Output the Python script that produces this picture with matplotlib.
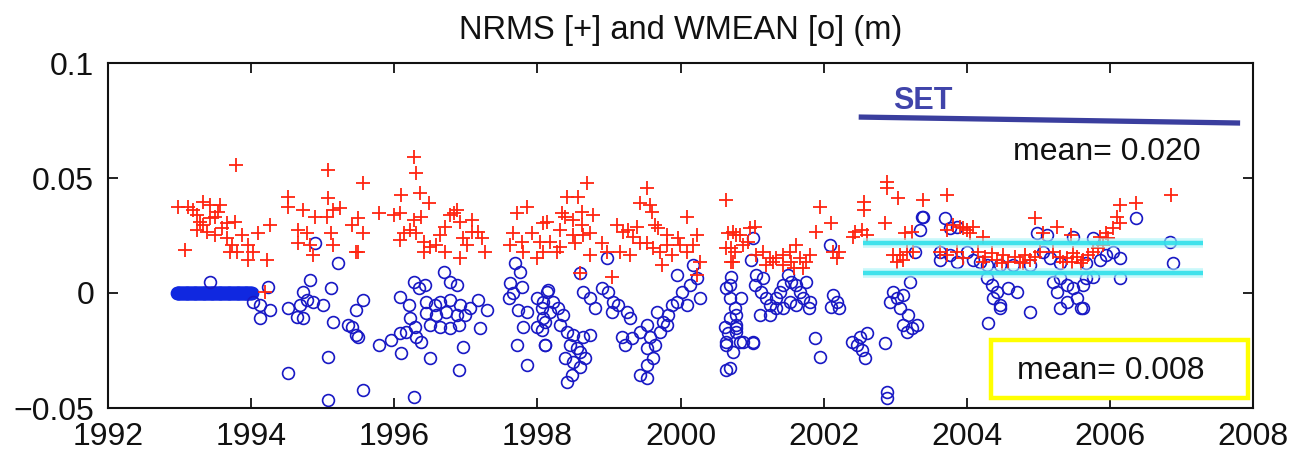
import matplotlib
matplotlib.use("Agg")
import matplotlib.pyplot as plt
from matplotlib.patches import Rectangle

plt.rcParams['font.family'] = ['Liberation Sans', 'DejaVu Sans']

# ---------------- data ----------------
title = "NRMS [+] and WMEAN [o] (m)"
x_ticks = [1992, 1994, 1996, 1998, 2000, 2002, 2004, 2006, 2008]
x_tick_labels = ["1992", "1994", "1996", "1998", "2000", "2002", "2004", "2006", "2008"]
y_ticks = [-0.05, 0, 0.05, 0.1]
y_tick_labels = ["\u22120.05", "0", "0.05", "0.1"]

# NRMS (red +)
nrms_x = [
    1993.79, 1995.07, 1992.98, 1993.12, 1993.19, 1993.33, 1993.43, 1993.57, 1993.24, 1993.29,
    1993.33, 1993.43, 1993.50, 1993.54, 1993.66, 1993.77, 1993.24, 1993.38, 1993.50, 1993.59,
    1993.66, 1993.73, 1993.80, 1993.87, 1993.96, 1994.03, 1994.10, 1994.26, 1994.22, 1993.96,
    1993.08, 1993.70, 1994.52, 1994.52, 1994.73, 1994.89, 1995.08, 1995.06, 1995.15, 1995.24,
    1994.66, 1994.78, 1994.66, 1994.82, 1994.87, 1995.12, 1995.15, 1995.41, 1995.47, 1994.19,
    1996.27, 1996.31, 1995.57, 1996.10, 1996.36, 1996.48, 1995.78, 1995.99, 1996.08, 1995.50,
    1995.57, 1995.50, 1996.27, 1996.38, 1996.22, 1996.13, 1996.08, 1996.31, 1996.41, 1996.50,
    1996.59, 1996.64, 1996.71, 1996.78, 1996.87, 1996.92, 1996.96, 1997.08, 1997.08, 1997.17,
    1997.22, 1997.01, 1996.92, 1996.71, 1997.27, 1996.41, 1996.83, 1997.71, 1997.85, 1997.66,
    1997.62, 1997.78, 1997.80, 1997.92, 1998.04, 1998.08, 1997.99,
    1998.69, 1998.41, 1998.57, 1998.13, 1998.34, 1998.39, 1998.50, 1998.62, 1998.78, 1998.62,
    1998.32, 1998.50, 1998.64, 1998.74, 1998.53, 1998.74, 1998.32, 1998.18, 1998.08, 1998.27,
    1998.90, 1998.97, 1999.04, 1998.60, 1999.11, 1999.20, 1999.27, 1999.39, 1999.34, 1999.43,
    1999.15, 1999.29, 1999.53, 1999.43, 1999.57, 1999.60, 1999.64, 1999.69, 1999.53, 1999.62,
    1999.71, 1999.81, 1999.88, 1999.97, 2000.09, 1999.99, 2000.09, 2000.18, 2000.23, 2000.27,
    2000.23, 1999.81, 1999.74, 2000.64, 2000.67, 2000.71, 2000.78, 2000.74, 2000.64,
    2000.74, 2000.83, 2000.88, 2000.76, 2000.71, 2000.97, 2001.04, 2000.95, 2001.06, 2001.15,
    2001.25, 2001.34, 2001.43, 2001.53, 2001.62, 2001.67, 2001.76, 2001.81, 2001.71, 2001.58,
    2001.43, 2001.20, 2001.29, 2001.55, 2001.95, 2001.90, 2002.11, 2002.13, 2002.22, 2002.18,
    2002.56, 2002.56, 2002.88, 2002.88, 2002.86, 2002.44, 2002.53, 2002.60, 2002.41, 2003.04,
    2003.14, 2003.23, 2002.97, 2003.07, 2003.16, 2003.25, 2003.02, 2003.11,
    2003.39, 2003.72, 2003.81, 2003.95, 2004.09, 2004.05, 2004.23, 2004.95, 2005.26, 2005.07,
    2005.46, 2004.16, 2004.26, 2004.35, 2004.42, 2004.51, 2004.58, 2004.67, 2004.74, 2004.81,
    2004.88, 2004.95, 2005.02, 2004.23, 2004.49, 2004.79, 2005.21, 2005.30, 2005.40, 2005.47,
    2005.54, 2005.63, 2005.70, 2005.77, 2005.84, 2005.91, 2005.98, 2006.05, 2006.10, 2005.49,
    2005.35, 2005.59, 2003.63, 2003.72, 2003.86, 2003.95, 2003.72, 2003.90, 2004.00, 2006.14,
    2006.37, 2006.14, 2005.95, 2005.86, 2006.86,
]
nrms_y = [
    0.0557, 0.0535, 0.0375, 0.0375, 0.0360, 0.0397, 0.0383, 0.0383, 0.0339, 0.0310,
    0.0296, 0.0325, 0.0332, 0.0354, 0.0303, 0.0310, 0.0274, 0.0267, 0.0252, 0.0281,
    0.0238, 0.0209, 0.0180, 0.0252, 0.0209, 0.0180, 0.0260, 0.0296, 0.0143, 0.0143,
    0.0187, 0.0180, 0.0419, 0.0375, 0.0360, 0.0332, 0.0412, 0.0332, 0.0360, 0.0370,
    0.0274, 0.0260, 0.0216, 0.0209, 0.0165, 0.0260, 0.0209, 0.0296, 0.0180, 0.0006,
    0.0593, 0.0520, 0.0477, 0.0426, 0.0433, 0.0390, 0.0346, 0.0339, 0.0346, 0.0325,
    0.0260, 0.0180, 0.0317, 0.0332, 0.0274, 0.0260, 0.0230, 0.0260, 0.0223, 0.0201,
    0.0209, 0.0252, 0.0288, 0.0339, 0.0360, 0.0310, 0.0238, 0.0317, 0.0267, 0.0267,
    0.0238, 0.0209, 0.0151, 0.0180, 0.0180, 0.0180, 0.0346, 0.0346, 0.0375, 0.0260,
    0.0209, 0.0223, 0.0180, 0.0260, 0.0223, 0.0303, 0.0151,
    0.0477, 0.0419, 0.0419, 0.0310, 0.0346, 0.0332, 0.0317, 0.0354, 0.0339, 0.0296,
    0.0274, 0.0252, 0.0252, 0.0260, 0.0216, 0.0165, 0.0201, 0.0223, 0.0180, 0.0180,
    0.0216, 0.0180, 0.0071, 0.0087, 0.0296, 0.0267, 0.0274, 0.0288, 0.0245, 0.0216,
    0.0180, 0.0165, 0.0455, 0.0390, 0.0383, 0.0354, 0.0296, 0.0281, 0.0216, 0.0194,
    0.0180, 0.0209, 0.0165, 0.0238, 0.0332, 0.0209, 0.0180, 0.0209, 0.0252, 0.0136,
    0.0078, 0.0252, 0.0122, 0.0404, 0.0260, 0.0194, 0.0252, 0.0136, 0.0194,
    0.0267, 0.0252, 0.0209, 0.0180, 0.0136, 0.0281, 0.0288, 0.0223, 0.0165, 0.0180,
    0.0151, 0.0151, 0.0165, 0.0180, 0.0209, 0.0151, 0.0136, 0.0165, 0.0107, 0.0107,
    0.0122, 0.0122, 0.0136, 0.0136, 0.0375, 0.0267, 0.0303, 0.0180, 0.0180, 0.0151,
    0.0397, 0.0360, 0.0484, 0.0455, 0.0303, 0.0267, 0.0274, 0.0252, 0.0245, 0.0412,
    0.0260, 0.0267, 0.0165, 0.0165, 0.0180, 0.0180, 0.0136, 0.0143,
    0.0404, 0.0426, 0.0296, 0.0281, 0.0288, 0.0260, 0.0245, 0.0325, 0.0288, 0.0260,
    0.0252, 0.0180, 0.0158, 0.0172, 0.0143, 0.0165, 0.0136, 0.0158, 0.0136, 0.0165,
    0.0143, 0.0158, 0.0180, 0.0136, 0.0129, 0.0129, 0.0180, 0.0158, 0.0151, 0.0136,
    0.0158, 0.0143, 0.0165, 0.0180, 0.0194, 0.0209, 0.0238, 0.0281, 0.0332, 0.0172,
    0.0136, 0.0129, 0.0180, 0.0165, 0.0180, 0.0151, 0.0274, 0.0288, 0.0274, 0.0383,
    0.0390, 0.0303, 0.0260, 0.0245, 0.0426,
]

# WMEAN early period, all at zero (dense run of circles)
wmean_zero_x = [
    1992.960, 1992.972, 1992.985, 1992.997, 1993.010, 1993.022, 1993.035, 1993.047, 1993.060, 1993.072,
    1993.085, 1993.097, 1993.110, 1993.122, 1993.135, 1993.147, 1993.160, 1993.172, 1993.185, 1993.197,
    1993.210, 1993.222, 1993.235, 1993.247, 1993.260, 1993.272, 1993.285, 1993.297, 1993.310, 1993.322,
    1993.335, 1993.347, 1993.360, 1993.372, 1993.385, 1993.397, 1993.410, 1993.422, 1993.435, 1993.447,
    1993.460, 1993.472, 1993.485, 1993.497, 1993.510, 1993.522, 1993.535, 1993.547, 1993.560, 1993.572,
    1993.585, 1993.597, 1993.610, 1993.622, 1993.635, 1993.647, 1993.660, 1993.672, 1993.685, 1993.697,
    1993.710, 1993.722, 1993.735, 1993.747, 1993.760, 1993.772, 1993.785, 1993.797, 1993.810, 1993.822,
    1993.835, 1993.847, 1993.860, 1993.872, 1993.885, 1993.897, 1993.910, 1993.922, 1993.935, 1993.947,
    1993.960, 1993.972, 1993.985, 1993.997, 1994.010,
]
wmean_zero_y = [
    0.0, 0.0, 0.0, 0.0, 0.0, 0.0, 0.0, 0.0, 0.0, 0.0,
    0.0, 0.0, 0.0, 0.0, 0.0, 0.0, 0.0, 0.0, 0.0, 0.0,
    0.0, 0.0, 0.0, 0.0, 0.0, 0.0, 0.0, 0.0, 0.0, 0.0,
    0.0, 0.0, 0.0, 0.0, 0.0, 0.0, 0.0, 0.0, 0.0, 0.0,
    0.0, 0.0, 0.0, 0.0, 0.0, 0.0, 0.0, 0.0, 0.0, 0.0,
    0.0, 0.0, 0.0, 0.0, 0.0, 0.0, 0.0, 0.0, 0.0, 0.0,
    0.0, 0.0, 0.0, 0.0, 0.0, 0.0, 0.0, 0.0, 0.0, 0.0,
    0.0, 0.0, 0.0, 0.0, 0.0, 0.0, 0.0, 0.0, 0.0, 0.0,
    0.0, 0.0, 0.0, 0.0, 0.0,
]

# WMEAN (blue o)
wmean_x = [
    1993.42, 1994.24, 1994.03, 1994.12, 1994.26, 1994.12, 1994.89, 1995.22, 1994.82, 1995.12,
    1994.73, 1994.78, 1994.87, 1994.68, 1994.52, 1994.64, 1994.73, 1995.01, 1995.15, 1995.36,
    1995.47, 1995.08, 1994.52, 1995.08, 1995.47,
    1995.57, 1995.41, 1995.50, 1995.78, 1995.96, 1996.08, 1996.10, 1995.57, 1996.27, 1996.50,
    1996.96, 1996.90, 1997.20, 1996.69, 1996.78, 1996.87, 1996.27, 1996.43, 1996.34, 1996.08,
    1996.20, 1996.22, 1996.29, 1996.17, 1996.31, 1996.38, 1996.45, 1996.57, 1996.64, 1996.78,
    1996.92, 1997.06, 1997.17, 1997.29, 1996.45, 1996.59, 1996.73, 1996.87, 1996.99, 1996.50,
    1996.64, 1996.78, 1996.90, 1997.69, 1997.76, 1997.62, 1997.78, 1997.66, 1997.60, 1997.73,
    1997.85, 1997.80, 1997.99, 1998.06, 1998.08, 1997.99, 1998.13, 1998.11, 1997.71, 1997.85,
    1998.15, 1998.08, 1998.18, 1998.11, 1998.06, 1998.11, 1998.22, 1998.29, 1998.36, 1998.32,
    1998.41, 1998.50, 1998.46, 1998.55, 1998.64, 1998.74, 1998.60, 1998.39, 1998.50, 1998.60,
    1998.48, 1998.41, 1998.64, 1998.74, 1998.81, 1998.67, 1998.90, 1998.99, 1999.06, 1999.04,
    1999.13, 1999.25, 1999.29, 1999.18, 1999.22, 1999.32, 1999.43, 1999.53, 1999.57, 1999.64,
    1999.71, 1999.76, 1999.83, 1999.88, 1999.95, 2000.02, 2000.13, 2000.23, 2000.18, 2000.27,
    1999.95, 1999.53, 1999.62, 1999.53, 1999.43, 1999.53, 1998.97, 1999.67, 2000.09, 1999.81,
    1998.60,
    2000.71, 2000.64, 2000.69, 2000.76, 2000.69, 2000.62, 2000.78, 2000.64, 2000.74, 2000.64,
    2000.64, 2000.83, 2001.01, 2000.67, 2000.78,
    2000.69, 2000.85, 2000.78, 2000.78, 2000.88, 2001.01, 2000.69, 2001.01, 2000.99, 2001.06,
    2001.15, 2001.04, 2001.13, 2001.20, 2001.25, 2001.11, 2001.25, 2001.34, 2001.39, 2001.43,
    2001.50, 2001.55, 2001.62, 2001.67, 2001.71, 2001.81, 2001.79, 2001.62, 2001.53, 2001.43,
    2001.34, 2001.76, 2002.09, 2002.13, 2002.18, 2002.22, 2002.11, 2001.88, 2001.95, 2002.39,
    2002.46, 2002.53, 2002.58, 2002.51, 2002.60, 2002.86, 2002.88, 2002.88, 2002.97, 2002.93,
    2003.02, 2003.11, 2003.21, 2003.07, 2003.18, 2003.11, 2003.23, 2003.30, 2003.16, 2003.37,
    2003.35, 2003.28,
    2003.39, 2003.70, 2003.77, 2003.86, 2003.63, 2003.63, 2003.77, 2003.86, 2004.00, 2004.09,
    2004.19, 2004.28, 2004.47, 2004.65, 2004.88, 2005.07, 2005.16, 2005.30, 2005.67, 2005.86,
    2005.95, 2004.98, 2005.12, 2005.49, 2005.77, 2004.28, 2004.35, 2004.42, 2004.37, 2004.47,
    2004.58, 2004.70, 2004.30, 2004.47, 2004.88, 2005.21, 2005.30, 2005.40, 2005.49, 2005.26,
    2005.54, 2005.40, 2005.59, 2005.30, 2005.67, 2005.77,
    2006.37, 2006.84, 2006.88, 2006.14, 2006.05, 2006.14, 2005.63, 2005.63,
]
wmean_y = [
    0.0049, 0.0027, -0.0038, -0.0052, -0.0074, -0.0110, 0.0216, 0.0129, 0.0057, 0.0020,
    0.0006, -0.0030, -0.0038, -0.0052, -0.0064, -0.0103, -0.0110, -0.0052, -0.0125, -0.0139,
    -0.0183, -0.0277, -0.0349, -0.0465, -0.0074,
    -0.0030, -0.0146, -0.0190, -0.0226, -0.0204, -0.0175, -0.0262, -0.0422, -0.0451, -0.0284,
    -0.0233, -0.0335, -0.0154, 0.0093, 0.0049, 0.0035, 0.0049, 0.0035, 0.0020, -0.0016,
    -0.0052, -0.0110, -0.0146, -0.0168, -0.0190, -0.0212, -0.0038, -0.0052, -0.0038, -0.0030,
    -0.0052, -0.0067, -0.0030, -0.0074, -0.0088, -0.0096, -0.0081, -0.0096, -0.0096, -0.0139,
    -0.0146, -0.0154, -0.0139, 0.0129, 0.0093, 0.0042, 0.0027, 0.0000, -0.0023, -0.0074,
    -0.0081, -0.0146, -0.0023, -0.0067, -0.0110, -0.0146, 0.0006, -0.0226, -0.0226, -0.0313,
    0.0013, -0.0038, -0.0081, -0.0125, -0.0161, -0.0226, -0.0038, -0.0067, -0.0096, -0.0139,
    -0.0168, -0.0183, -0.0226, -0.0241, -0.0190, -0.0183, -0.0255, -0.0284, -0.0299, -0.0320,
    -0.0357, -0.0386, 0.0006, -0.0023, -0.0067, -0.0284, 0.0020, 0.0006, -0.0038, -0.0081,
    -0.0052, -0.0081, -0.0110, -0.0190, -0.0226, -0.0197, -0.0168, -0.0139, -0.0190, -0.0226,
    -0.0168, -0.0125, -0.0096, -0.0052, -0.0038, 0.0006, 0.0035, 0.0064, 0.0122, -0.0023,
    0.0078, -0.0241, -0.0284, -0.0313, -0.0357, -0.0371, 0.0151, -0.0081, -0.0052, -0.0139,
    0.0087,
    0.0071, 0.0020, -0.0023, -0.0067, -0.0110, -0.0146, -0.0168, -0.0226, -0.0255, -0.0335,
    -0.0212, -0.0212, -0.0212, -0.0175, -0.0154,
    0.0035, -0.0023, -0.0096, -0.0139, -0.0212, -0.0219, -0.0328, 0.0238, 0.0143, 0.0078,
    0.0064, 0.0035, 0.0006, -0.0023, -0.0052, -0.0096, -0.0096, -0.0023, 0.0006, 0.0035,
    0.0078, 0.0049, 0.0035, 0.0006, -0.0023, -0.0038, -0.0067, -0.0052, -0.0038, -0.0067,
    -0.0067, 0.0049, 0.0209, -0.0009, -0.0038, -0.0067, -0.0060, -0.0197, -0.0277, -0.0212,
    -0.0226, -0.0248, -0.0284, -0.0190, -0.0175, -0.0219, -0.0429, -0.0458, 0.0006, -0.0038,
    -0.0023, -0.0009, 0.0049, -0.0067, -0.0096, -0.0139, -0.0154, -0.0139, -0.0168, 0.0332,
    0.0274, 0.0180,
    0.0332, 0.0325, 0.0281, 0.0288, 0.0180, 0.0143, 0.0165, 0.0136, 0.0180, 0.0143,
    0.0136, 0.0122, 0.0122, 0.0122, 0.0122, 0.0180, 0.0151, 0.0129, 0.0129, 0.0143,
    0.0165, 0.0260, 0.0252, 0.0245, 0.0238, 0.0064, 0.0035, 0.0006, -0.0023, -0.0052,
    0.0020, 0.0006, -0.0132, -0.0067, -0.0081, 0.0049, 0.0064, 0.0035, 0.0020, 0.0006,
    -0.0023, -0.0038, -0.0067, -0.0067, 0.0064, 0.0071,
    0.0325, 0.0223, 0.0129, 0.0151, 0.0180, 0.0064, 0.0035, -0.0067,
]

# annotation overlays (data coordinates)
set_line_x = [2002.49, 2007.82]
set_line_y = [0.0765, 0.0739]
band_x = [2002.55, 2007.30]
band_upper = 0.0216
band_lower = 0.0087
nrms_mean_text = "mean= 0.020"
wmean_mean_text = "mean= 0.008"
set_label = "SET"

# ---------------- plot ----------------
fig = plt.figure(figsize=(13, 4.55), dpi=100)
ax = fig.add_axes([108/1300, 47/455, 1145/1300, 345/455])

ax.plot(wmean_zero_x, wmean_zero_y, linestyle='none', marker='o', markersize=8.5,
        markerfacecolor='none', markeredgecolor='#1028e0', markeredgewidth=1.4, zorder=2)
ax.plot(wmean_x, wmean_y, linestyle='none', marker='o', markersize=8.5,
        markerfacecolor='none', markeredgecolor='#1818c4', markeredgewidth=1.2, zorder=2)
ax.plot(nrms_x, nrms_y, linestyle='none', marker='+', markersize=10,
        color='#ff2410', markeredgewidth=1.3, zorder=3)

# cyan band lines
for yv in (band_upper, band_lower):
    ax.plot(band_x, [yv, yv], color='#a8f4f8', linewidth=7, alpha=0.6,
            solid_capstyle='butt', zorder=4)
    ax.plot(band_x, [yv, yv], color='#30e0ea', linewidth=3.2, alpha=0.9,
            solid_capstyle='butt', zorder=5)

# SET line and label
ax.plot(set_line_x, set_line_y, color='#3a3e9e', linewidth=3.8,
        solid_capstyle='butt', zorder=5)
ax.text(2003.39, 0.0835, set_label, color='#4044aa', fontsize=22,
        fontweight='bold', ha='center', va='center', zorder=6)

ax.text(0.872, 0.742, nrms_mean_text, transform=ax.transAxes, fontsize=23,
        ha='center', va='center', color='#111111', zorder=6)

# yellow box with mean
ax.add_patch(Rectangle((0.771, 0.030), 0.225, 0.167, transform=ax.transAxes,
                       fill=False, edgecolor='#ffff00', linewidth=3.2, zorder=6,
                       clip_on=False))
ax.text(0.876, 0.107, wmean_mean_text, transform=ax.transAxes, fontsize=23,
        ha='center', va='center', color='#111111', zorder=7)

ax.set_xlim(1992, 2008)
ax.set_ylim(-0.05, 0.1)
ax.set_xticks(x_ticks)
ax.set_xticklabels(x_tick_labels)
ax.set_yticks(y_ticks)
ax.set_yticklabels(y_tick_labels)
ax.tick_params(direction='in', length=7, width=1.3, top=True, right=True,
               labelsize=23, colors='#111111')
ax.tick_params(axis='x', pad=10)
ax.tick_params(axis='y', pad=10)
for sp in ax.spines.values():
    sp.set_linewidth(1.5)
    sp.set_color('#111111')

ax.set_title(title, fontsize=23.5, pad=17, color='#111111')

fig.savefig('out.png', dpi=100, facecolor='white')
